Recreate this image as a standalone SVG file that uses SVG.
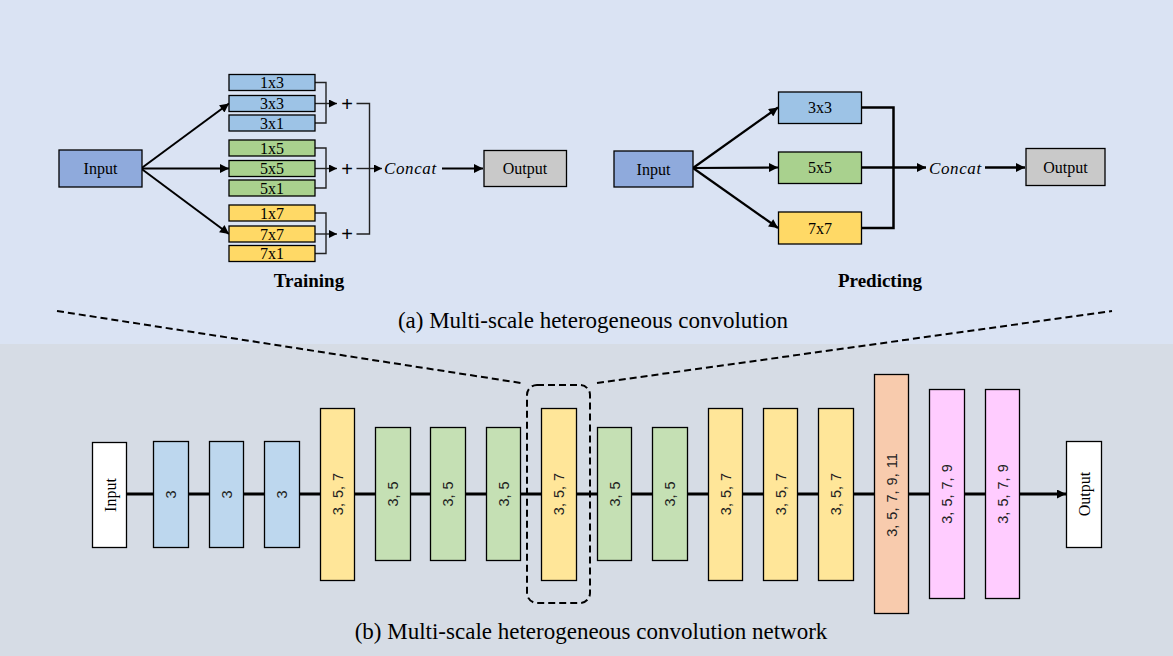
<svg xmlns="http://www.w3.org/2000/svg" width="1173" height="656" viewBox="0 0 1173 656">
<defs>
<style>
.lbl{font-family:"Liberation Serif","Times New Roman",serif;font-size:16px;fill:#000;text-anchor:middle}
.num{font-family:"Liberation Sans",Arial,sans-serif;font-size:14.5px;fill:#222;text-anchor:middle;word-spacing:1px}
.cap{font-family:"Liberation Serif","Times New Roman",serif;font-size:23px;fill:#000;text-anchor:middle}
.ttl{font-family:"Liberation Serif","Times New Roman",serif;font-size:19px;font-weight:bold;fill:#000;text-anchor:middle}
.cc{font-family:"Liberation Serif","Times New Roman",serif;font-size:17px;font-style:italic;fill:#000;letter-spacing:0.6px}
.plus{font-family:"Liberation Sans",Arial,sans-serif;font-size:20px;fill:#000;text-anchor:middle}
.box{stroke:#000;stroke-width:1.3}
.ln{fill:none;stroke:#000}
.br{fill:none;stroke:#222;stroke-width:1.4}
.dash{fill:none;stroke:#000;stroke-width:2;stroke-dasharray:7,4}
</style>
<marker id="ah" viewBox="0 0 10 10" refX="10" refY="5" markerWidth="11" markerHeight="9" markerUnits="userSpaceOnUse" orient="auto">
<path d="M0,0 L10,5 L0,10 Z" fill="#000"/>
</marker>
<marker id="ahs" viewBox="0 0 10 10" refX="10" refY="5" markerWidth="10" markerHeight="8" markerUnits="userSpaceOnUse" orient="auto">
<path d="M0,0 L10,5 L0,10 Z" fill="#000"/>
</marker>
</defs>

<rect x="0" y="0" width="1173" height="344" fill="#dae3f3"/>
<rect x="0" y="344" width="1173" height="312" fill="#d6dce5"/>

<g id="connectors">
<line class="ln" stroke-width="2" x1="141" y1="168.5" x2="229" y2="103.5" marker-end="url(#ah)"/>
<line class="ln" stroke-width="2" x1="141" y1="168.5" x2="229" y2="168.5" marker-end="url(#ah)"/>
<line class="ln" stroke-width="2" x1="141" y1="168.5" x2="229" y2="234" marker-end="url(#ah)"/>
<polyline class="br" points="315,82.5 326,82.5 326,123 315,123"/>
<polyline class="br" points="315,148 326,148 326,188 315,188"/>
<polyline class="br" points="315,213 326,213 326,253.5 315,253.5"/>
<line class="br" x1="315" y1="103.5" x2="337" y2="103.5" marker-end="url(#ahs)"/>
<line class="br" x1="315" y1="168.5" x2="337" y2="168.5" marker-end="url(#ahs)"/>
<line class="br" x1="315" y1="234" x2="337" y2="234" marker-end="url(#ahs)"/>
<polyline class="br" stroke="#444" points="356.5,103.5 369.5,103.5 369.5,234 356.5,234"/>
<line class="br" x1="356.5" y1="168.5" x2="382" y2="168.5" marker-end="url(#ahs)"/>
<line class="ln" stroke-width="2.2" x1="442" y1="168.5" x2="483" y2="168.5" marker-end="url(#ah)"/>
<line class="ln" stroke-width="2.2" x1="693" y1="168" x2="778" y2="107.5" marker-end="url(#ah)"/>
<line class="ln" stroke-width="2.2" x1="693" y1="168" x2="778" y2="167.5" marker-end="url(#ah)"/>
<line class="ln" stroke-width="2.2" x1="693" y1="168" x2="778" y2="228" marker-end="url(#ah)"/>
<polyline class="ln" stroke-width="2.5" points="862,107.5 893.5,107.5 893.5,228 862,228"/>
<line class="ln" stroke-width="2.5" x1="862" y1="167.5" x2="926" y2="167.5" marker-end="url(#ah)"/>
<line class="ln" stroke-width="2.5" x1="985" y1="167.5" x2="1025" y2="167.5" marker-end="url(#ah)"/>
<line class="dash" x1="57" y1="311" x2="521" y2="383"/>
<line class="dash" x1="597" y1="383" x2="1112" y2="311"/>
<line class="ln" stroke-width="3" x1="127" y1="494" x2="1066" y2="494" marker-end="url(#ah)"/>
</g>

<g id="t-input"><rect class="box" x="59" y="150" width="83" height="37" fill="#8faadc"/><text class="lbl" x="100.5" y="174">Input</text></g>
<g id="t-1x3"><rect class="box" x="229" y="74.5" width="86" height="16" fill="#9dc3e6"/><text class="lbl" x="272" y="88">1x3</text></g>
<g id="t-3x3"><rect class="box" x="229" y="95.5" width="86" height="16" fill="#9dc3e6"/><text class="lbl" x="272" y="109">3x3</text></g>
<g id="t-3x1"><rect class="box" x="229" y="115" width="86" height="16" fill="#9dc3e6"/><text class="lbl" x="272" y="128.5">3x1</text></g>
<g id="t-1x5"><rect class="box" x="229" y="140" width="86" height="16" fill="#a9d18e"/><text class="lbl" x="272" y="153.5">1x5</text></g>
<g id="t-5x5"><rect class="box" x="229" y="160.5" width="86" height="16" fill="#a9d18e"/><text class="lbl" x="272" y="174">5x5</text></g>
<g id="t-5x1"><rect class="box" x="229" y="180" width="86" height="16" fill="#a9d18e"/><text class="lbl" x="272" y="193.5">5x1</text></g>
<g id="t-1x7"><rect class="box" x="229" y="205" width="86" height="16" fill="#ffd966"/><text class="lbl" x="272" y="218.5">1x7</text></g>
<g id="t-7x7"><rect class="box" x="229" y="226" width="86" height="16" fill="#ffd966"/><text class="lbl" x="272" y="239.5">7x7</text></g>
<g id="t-7x1"><rect class="box" x="229" y="245.5" width="86" height="16" fill="#ffd966"/><text class="lbl" x="272" y="259">7x1</text></g>
<g id="t-plus1"><text class="plus" x="347" y="110.5">+</text></g>
<g id="t-plus2"><text class="plus" x="347" y="175.5">+</text></g>
<g id="t-plus3"><text class="plus" x="347" y="241">+</text></g>
<g id="t-concat"><text class="cc" x="384" y="174">Concat</text></g>
<g id="t-output"><rect class="box" x="484" y="150.5" width="82.5" height="36" fill="#c9c9c9"/><text class="lbl" x="525" y="174">Output</text></g>
<text class="ttl" x="309" y="287">Training</text>

<g id="p-input"><rect class="box" x="614" y="151" width="79" height="36" fill="#8faadc"/><text class="lbl" x="653.5" y="174.5">Input</text></g>
<g id="p-3x3"><rect class="box" x="778.5" y="92" width="83" height="31.5" fill="#9dc3e6"/><text class="lbl" x="820" y="113">3x3</text></g>
<g id="p-5x5"><rect class="box" x="778.5" y="152" width="83" height="31.5" fill="#a9d18e"/><text class="lbl" x="820" y="173">5x5</text></g>
<g id="p-7x7"><rect class="box" x="778.5" y="212" width="83" height="32" fill="#ffd966"/><text class="lbl" x="820" y="233.5">7x7</text></g>
<g id="p-concat"><text class="cc" x="929" y="173.5">Concat</text></g>
<g id="p-output"><rect class="box" x="1026" y="148.5" width="79" height="37" fill="#c9c9c9"/><text class="lbl" x="1065.5" y="172.5">Output</text></g>
<text class="ttl" x="880" y="287">Predicting</text>

<text class="cap" x="593" y="328">(a) Multi-scale heterogeneous convolution</text>

<g id="n-input"><rect class="box" x="92.5" y="442.5" width="34" height="105" fill="#ffffff"/><text class="lbl" font-size="17" transform="rotate(-90 109.5 495)" x="109.5" y="501">Input</text></g>
<g id="n-b1"><rect class="box" x="153.5" y="441.5" width="35" height="106" fill="#bdd7ee"/><text class="num" transform="rotate(-90 171 494.5)" x="171" y="499.5">3</text></g>
<g id="n-b2"><rect class="box" x="209.5" y="441.5" width="34" height="106" fill="#bdd7ee"/><text class="num" transform="rotate(-90 226.5 494.5)" x="226.5" y="499.5">3</text></g>
<g id="n-b3"><rect class="box" x="264.5" y="441.5" width="35" height="106" fill="#bdd7ee"/><text class="num" transform="rotate(-90 282 494.5)" x="282" y="499.5">3</text></g>
<g id="n-y1"><rect class="box" x="320.5" y="408.5" width="34" height="172" fill="#ffe699"/><text class="num" transform="rotate(-90 337.5 494)" x="337.5" y="499">3, 5, 7</text></g>
<g id="n-g1"><rect class="box" x="375.5" y="427.5" width="35" height="133" fill="#c5e0b4"/><text class="num" transform="rotate(-90 393 494)" x="393" y="499">3, 5</text></g>
<g id="n-g2"><rect class="box" x="430.5" y="427.5" width="35" height="133" fill="#c5e0b4"/><text class="num" transform="rotate(-90 448 494)" x="448" y="499">3, 5</text></g>
<g id="n-g3"><rect class="box" x="486.5" y="427.5" width="34" height="133" fill="#c5e0b4"/><text class="num" transform="rotate(-90 503.5 494)" x="503.5" y="499">3, 5</text></g>
<g id="n-y2"><rect class="box" x="541.5" y="408.5" width="35" height="172" fill="#ffe699"/><text class="num" transform="rotate(-90 559 494)" x="559" y="499">3, 5, 7</text></g>
<g id="n-g4"><rect class="box" x="597.5" y="427.5" width="34" height="133" fill="#c5e0b4"/><text class="num" transform="rotate(-90 614.5 494)" x="614.5" y="499">3, 5</text></g>
<g id="n-g5"><rect class="box" x="652.5" y="427.5" width="35" height="133" fill="#c5e0b4"/><text class="num" transform="rotate(-90 670 494)" x="670" y="499">3, 5</text></g>
<g id="n-y3"><rect class="box" x="708.5" y="408.5" width="34" height="172" fill="#ffe699"/><text class="num" transform="rotate(-90 725.5 494)" x="725.5" y="499">3, 5, 7</text></g>
<g id="n-y4"><rect class="box" x="763.5" y="408.5" width="34" height="172" fill="#ffe699"/><text class="num" transform="rotate(-90 780.5 494)" x="780.5" y="499">3, 5, 7</text></g>
<g id="n-y5"><rect class="box" x="818.5" y="408.5" width="35" height="172" fill="#ffe699"/><text class="num" transform="rotate(-90 836 494)" x="836" y="499">3, 5, 7</text></g>
<g id="n-o1"><rect class="box" x="874.5" y="374.5" width="34" height="239" fill="#f8cbad"/><text class="num" transform="rotate(-90 891.5 495)" x="891.5" y="500">3, 5, 7, 9, 11</text></g>
<g id="n-p1"><rect class="box" x="929.5" y="389.5" width="35" height="209" fill="#ffccff"/><text class="num" transform="rotate(-90 947 494)" x="947" y="499">3, 5, 7, 9</text></g>
<g id="n-p2"><rect class="box" x="985.5" y="389.5" width="34" height="209" fill="#ffccff"/><text class="num" transform="rotate(-90 1002.5 494)" x="1002.5" y="499">3, 5, 7, 9</text></g>
<g id="n-output"><rect class="box" x="1066.5" y="441.5" width="35" height="106" fill="#ffffff"/><text class="lbl" font-size="17" transform="rotate(-90 1084 494)" x="1084" y="500">Output</text></g>

<g id="zoom-box"><rect class="dash" x="527" y="385" width="63" height="218" rx="10" ry="10"/></g>

<text class="cap" x="591" y="639">(b) Multi-scale heterogeneous convolution network</text>
</svg>
